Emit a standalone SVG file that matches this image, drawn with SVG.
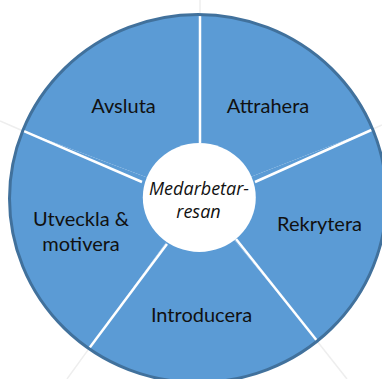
<svg xmlns="http://www.w3.org/2000/svg" width="382" height="379" viewBox="0 0 382 379">
<style>
.wedge{fill:#5B9BD5;stroke:none}
.lbl{font-family:Lato,"Open Sans","Liberation Sans",sans-serif;font-size:20px;fill:#111;text-anchor:middle}
.ctr{font-family:"Open Sans",Lato,"Liberation Sans",sans-serif;font-size:18px;font-style:italic;fill:#111;text-anchor:middle}
.spoke{stroke:#ffffff;stroke-width:2.5;fill:none}
.faint{stroke:#eeeeee;stroke-width:1.5;fill:none}
</style>
<rect width="382" height="379" fill="#ffffff"/>
<g id="faint-lines">
<line class="faint" x1="200" y1="0" x2="200" y2="14"/>
<line class="faint" x1="0" y1="121" x2="22" y2="130.5"/>
<line class="faint" x1="372" y1="129.5" x2="382" y2="125"/>
<line class="faint" x1="317" y1="341" x2="347" y2="379"/>
<line class="faint" x1="89" y1="348.6" x2="67" y2="379"/>
</g>
<g id="attrahera">
<path class="wedge" d="M199,197 L200,14.5 A188.5,184 0 0 1 372.5,129.5 Z"/>
<text class="lbl" x="268" y="113">Attrahera</text>
</g>
<g id="rekrytera">
<path class="wedge" d="M199,197 L372.5,129.5 A188.5,184 0 0 1 317.2,341 Z"/>
<text class="lbl" x="319.5" y="231">Rekrytera</text>
</g>
<g id="introducera">
<path class="wedge" d="M199,197 L317.2,341 A188.5,184 0 0 1 89,348.6 Z"/>
<text class="lbl" x="201.5" y="321.5">Introducera</text>
</g>
<g id="utveckla">
<path class="wedge" d="M199,197 L89,348.6 A188.5,184 0 0 1 22.8,130.7 Z"/>
<text class="lbl" x="81" y="225.5">Utveckla &amp;</text>
<text class="lbl" x="81" y="250.5">motivera</text>
</g>
<g id="avsluta">
<path class="wedge" d="M199,197 L22.8,130.7 A188.5,184 0 0 1 200,14.5 Z"/>
<text class="lbl" x="123.5" y="113">Avsluta</text>
</g>
<g id="connectors">
<line class="spoke" x1="200" y1="143" x2="200" y2="14.5"/>
<line class="spoke" x1="255" y1="182" x2="372.5" y2="129.5"/>
<line class="spoke" x1="236" y1="239" x2="317.2" y2="341"/>
<line class="spoke" x1="167" y1="244" x2="89" y2="348.6"/>
<line class="spoke" x1="142" y1="182" x2="22.8" y2="130.7"/>
</g>
<ellipse id="rim" cx="198" cy="198.5" rx="188.5" ry="184" fill="none" stroke="#41719C" stroke-width="3"/>
<g id="center">
<ellipse cx="199.3" cy="197.5" rx="56.5" ry="54.5" fill="#ffffff"/>
<text class="ctr" x="199" y="195">Medarbetar-</text>
<text class="ctr" x="198.5" y="218">resan</text>
</g>
</svg>
